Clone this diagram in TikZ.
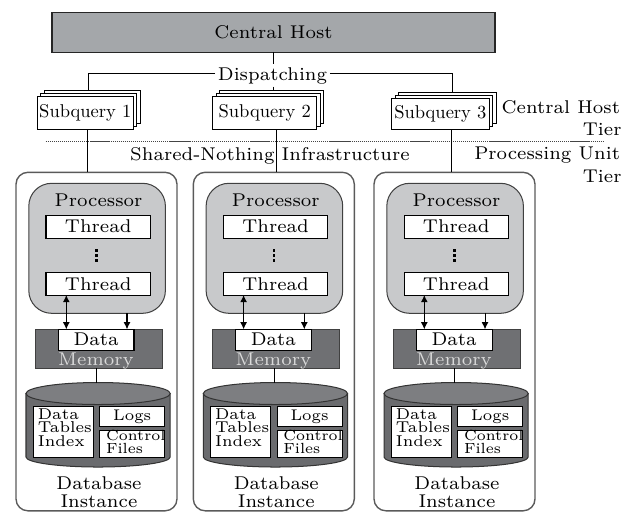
\documentclass[tikz,border=0pt]{standalone}
\usepackage{graphicx}
\usetikzlibrary{arrows.meta}
\definecolor{hostfill}{HTML}{A4A7AA}
\definecolor{procfill}{HTML}{C8C9CB}
\definecolor{memfill}{HTML}{6F7073}
\definecolor{cylbody}{HTML}{6A6B6E}
\definecolor{cyltop}{HTML}{7D7E81}
\definecolor{memtext}{HTML}{DADADA}
\definecolor{instline}{HTML}{5A5A5A}
\definecolor{dotcol}{HTML}{444444}
% rectangle node given by its corners (in px): style, x1, y1, x2, y2, name, text
\newcommand\rbox[7]{\node[#1,minimum width={((#4)-(#2))*0.395pt},minimum height={((#5)-(#3))*0.395pt}] (#6) at ({((#2)+(#4))/2},{((#3)+(#5))/2}) {#7};}
\begin{document}
\begin{tikzpicture}[x=0.395pt,y=-0.395pt,
  every node/.style={inner sep=0pt,outer sep=0pt},
  mainfont/.style={font=\fontsize{7.3}{8}\selectfont},
  dtifont/.style={font=\fontsize{6.2}{7}\selectfont},
  logsfont/.style={font=\fontsize{6.1}{7}\selectfont},
  cffont/.style={font=\fontsize{5.8}{6}\selectfont},
  dbfont/.style={font=\fontsize{7.3}{8}\selectfont},
  fbox/.style={draw=black,line width=0.4pt,fill=white,inner sep=0pt},
  hostbox/.style={draw=black!85,line width=0.55pt,fill=hostfill,inner sep=0pt},
  instbox/.style={draw=instline,line width=0.55pt,rounded corners=4.7pt,inner sep=0pt},
  procbox/.style={draw=black!75,line width=0.4pt,fill=procfill,rounded corners=9pt,inner sep=0pt},
  membox/.style={draw=black!75,line width=0.4pt,fill=memfill,inner sep=0pt},
  cylb/.style={draw=black!80,line width=0.4pt,fill=cylbody},
  cylt/.style={draw=black!80,line width=0.4pt,fill=cyltop},
  conn/.style={draw=black,line width=0.4pt},
  biarrow/.style={conn,{Latex[length=2.8pt,width=2.7pt]}-{Latex[length=2.8pt,width=2.7pt]}},
  onearrow/.style={conn,-{Latex[length=2.8pt,width=2.7pt]}},
  dotline/.style={draw=dotcol,line width=0.75pt,dash pattern=on 0.5pt off 0.3pt}]
\useasboundingbox (0,0) rectangle (633,512);

% central host and dispatching
\rbox{hostbox,mainfont}{52}{12.7}{495}{52.3}{host}{Central Host}
\node[mainfont,anchor=base,inner sep=1.1pt] (disp) at (272.5,80) {Dispatching};
\coordinate (dl) at (88.3,73.3);
\coordinate (dr) at (452.7,73.3);

% subquery stacks
\foreach \i/\xa/\ya/\xb/\yb in {1/37.3/96.7/133.3/129,2/212.7/96.7/316.7/129,3/391.7/98.3/489/129.3}{
  \rbox{fbox}{\xa+7}{\ya-6}{\xb+7}{\yb-6}{sq\i b}{}
  \rbox{fbox}{\xa+3.5}{\ya-3}{\xb+3.5}{\yb-3}{sq\i m}{}
  \rbox{fbox}{\xa}{\ya}{\xb}{\yb}{sq\i}{\scalebox{0.731}{\fontsize{10}{12}\selectfont Subquery \i}}
}

\draw[conn] (host.south) -- (host.south |- disp.north);
\draw[conn] (disp.west |- dl) -- (dl) -- (dl |- sq1b.north);
\draw[conn] (disp.east |- dr) -- (dr) -- (dr |- sq3b.north);
\draw[conn] (host.south |- disp.south) -- (host.south |- sq2b.north);

% tier separator and labels
\draw[dotline] (45.7,141.5) -- (602.7,141.5);
\node[mainfont,anchor=base] (sni) at (270,160) {Shared-Nothing Infrastructure};
\node[mainfont,anchor=base east] (cht1) at (620,113.3) {Central Host};
\node[mainfont,anchor=base east] (cht2) at (621.5,135) {Tier};
\node[mainfont,anchor=base east] (put1) at (620,159) {Processing Unit};
\node[mainfont,anchor=base east] (put2) at (621.5,182.7) {Tier};

% processing units
\foreach \i/\xo/\qx in {1/16/87.3,2/193.3/276.7,3/374/451}{
  \rbox{instbox}{\xo}{172.3}{\xo+161}{510.8}{inst\i}{}
  \coordinate (q\i) at (\qx,0);
  \draw[conn] (sq\i.south -| q\i) -- (inst\i.north -| q\i);
  \rbox{procbox}{\xo+12.8}{183.3}{\xo+149.4}{313.3}{proc\i}{}
  \node[mainfont,anchor=base] (proct\i) at (\xo+82.5,206) {Processor};
  \rbox{fbox,mainfont}{\xo+30}{215}{\xo+134.5}{238.3}{thra\i}{Thread}
  \rbox{fbox,mainfont}{\xo+30}{272.7}{\xo+134.5}{295}{thrb\i}{Thread}
  \fill (\xo+79.2,249.3) rectangle (\xo+81.8,252.3);
  \fill (\xo+79.2,254.3) rectangle (\xo+81.8,257.3);
  \fill (\xo+79.2,259.3) rectangle (\xo+81.8,262.3);
  \rbox{membox}{\xo+19.5}{329.3}{\xo+146.1}{368.3}{mem\i}{}
  \rbox{fbox,mainfont}{\xo+42.2}{329.3}{\xo+118}{350}{dat\i}{Data}
  \node[mainfont,text=memtext,anchor=base] (memt\i) at (\xo+80,365) {Memory};
  \coordinate (ua\i) at (\xo+50.3,0);
  \coordinate (ub\i) at (\xo+111,0);
  \coordinate (uc\i) at (\xo+80.7,0);
  \draw[biarrow] (thrb\i.south -| ua\i) -- (mem\i.north -| ua\i);
  \draw[onearrow] (proc\i.south -| ub\i) -- (mem\i.north -| ub\i);
  % database cylinder
  \filldraw[cylb] (\xo+10,393.5) -- (\xo+10,457) arc[start angle=180,end angle=0,x radius=72.1,y radius=10] -- (\xo+154.2,393.5) -- cycle;
  \filldraw[cylt] (\xo+82.1,393.5) ellipse [x radius=72.1,y radius=11];
  \coordinate (cyl\i) at (\xo+80.7,382.5);
  \draw[conn] (mem\i.south -| uc\i) -- (cyl\i);
  \rbox{fbox}{\xo+17.1}{406.7}{\xo+77.4}{457.3}{dti\i}{}
  \node[dtifont,anchor=base west] (dtia\i) at (\xo+21.8,419.3) {Data};
  \node[dtifont,anchor=base west] (dtib\i) at (\xo+21.8,432.7) {Tables};
  \node[dtifont,anchor=base west] (dtic\i) at (\xo+21.8,446) {Index};
  \rbox{fbox,logsfont}{\xo+83.7}{406.7}{\xo+148.8}{426}{logs\i}{Logs}
  \rbox{fbox}{\xo+83.7}{430}{\xo+148.8}{457.3}{cf\i}{}
  \node[cffont,anchor=base west] (cfa\i) at (\xo+90,440.7) {Control};
  \node[cffont,anchor=base west] (cfb\i) at (\xo+90,453.3) {Files};
  \node[dbfont,anchor=base] (dba\i) at (\xo+83,489) {Database};
  \node[dbfont,anchor=base] (dbb\i) at (\xo+83,507.7) {Instance};
}
\end{tikzpicture}
\end{document}
